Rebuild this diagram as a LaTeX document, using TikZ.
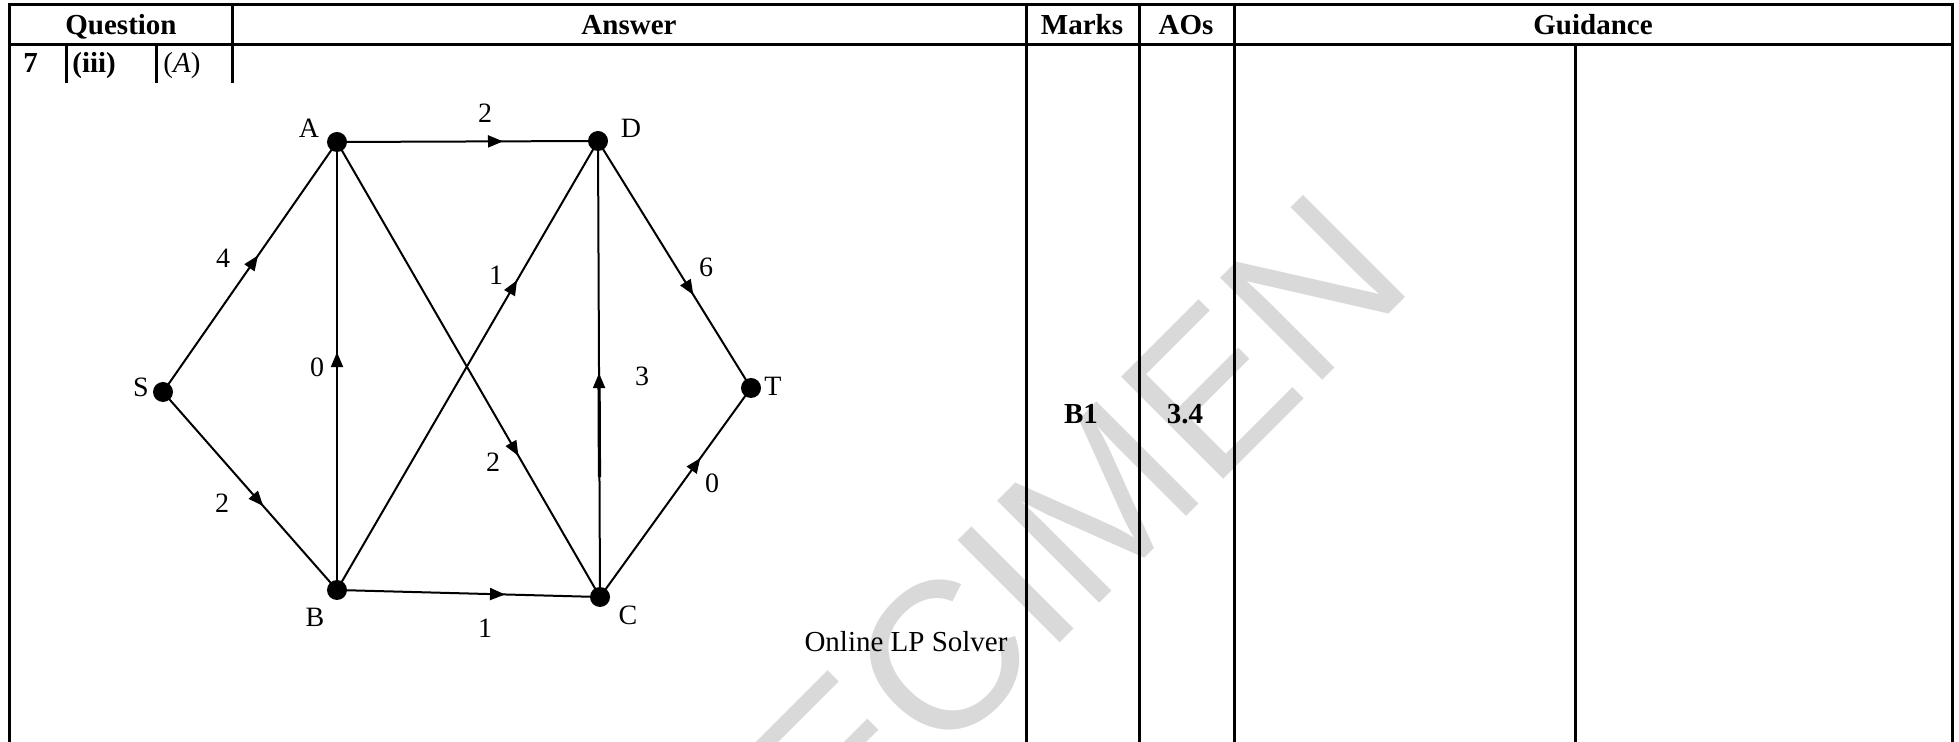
\documentclass[tikz,border=0pt]{standalone}
\usepackage{fontspec}
\setmainfont{Liberation Serif}
\newfontfamily\wmfont{Liberation Sans}
\usetikzlibrary{arrows.meta,decorations.markings,calc}
\begin{document}
\begin{tikzpicture}[x=0.5pt,y=-0.5pt,
  tline/.style={line width=1.5pt},
  gline/.style={line width=1pt},
  dot/.style={circle, fill=black, inner sep=0pt, minimum size=10pt},
  lab/.style={inner sep=0pt, font=\fontsize{14}{16}\selectfont},
  hdr/.style={inner sep=0pt, anchor=base, font=\fontsize{14.5}{16}\selectfont\bfseries},
  txt/.style={inner sep=0pt, anchor=base, font=\fontsize{14.5}{16}\selectfont},
  flow/.style={gline, decoration={markings, mark=at position #1 with {\arrow{Triangle[length=7.5pt,width=6pt]}}}, postaction={decorate}}
]
\useasboundingbox (0,0) rectangle (1959,742);
% watermark
\begin{scope}
\clip (0,0) rectangle (1959,742);
\node[rotate=45, anchor=base west, inner sep=0pt, text=black!15,
  font=\wmfont\fontsize{105}{105}\selectfont] (wm) at (642,1061) {SPECIMEN};
\end{scope}
% table
\draw[tline] (9,742) -- (9,5) -- (1952,5) -- (1952,742);
\draw[tline] (9,45) -- (1952,45);
\draw[tline] (66,45) -- (66,83);
\draw[tline] (156,45) -- (156,83);
\draw[tline] (232,5) -- (232,83);
\draw[tline] (1026,5) -- (1026,742);
\draw[tline] (1139,5) -- (1139,742);
\draw[tline] (1234,5) -- (1234,742);
\draw[tline] (1575,45) -- (1575,742);
% headers
\node[hdr] (hq) at (121,35) {Question};
\node[hdr] (ha) at (629,35) {Answer};
\node[hdr] (hm) at (1082,35) {Marks};
\node[hdr] (hao) at (1186,35) {AOs};
\node[hdr] (hg) at (1593,35) {Guidance};
\node[hdr, anchor=base west] (q7) at (23,73) {7};
\node[hdr, anchor=base west] (q3) at (72,73) {(iii)};
\node[txt, anchor=base west] (qa) at (163,73) {(\textit{A})};
\node[hdr] (mk) at (1081,424) {B1};
\node[hdr] (ao) at (1185,424) {3.4};
\node[txt] (lp) at (906,651) {Online LP Solver};
% vertices
\node[dot] (A) at (337,142) {};
\node[dot] (D) at (598,141) {};
\node[dot] (S) at (163,392) {};
\node[dot] (T) at (751,388) {};
\node[dot] (B) at (337,590) {};
\node[dot] (C) at (600,597) {};
% edges
\draw[flow=0.546] (S.center) -- (A.center);
\draw[flow=0.636] (A.center) -- (D.center);
\draw[flow=0.531] (B.center) -- (A.center);
\draw[flow=0.69] (B.center) -- (D.center);
\draw[flow=0.491] (C.center) -- (D.center);
\draw[line width=1.6pt] ($(C.center)!0.263!(D.center)$) -- ($(C.center)!0.48!(D.center)$);
\draw[flow=0.623] (D.center) -- (T.center);
\draw[flow=0.665] (C.center) -- (T.center);
\draw[flow=0.69] (A.center) -- (C.center);
\draw[flow=0.576] (S.center) -- (B.center);
\draw[flow=0.639] (B.center) -- (C.center);
% vertex labels
\node[lab] (lA) at (309,128) {A};
\node[lab] (lD) at (631,128) {D};
\node[lab] (lS) at (141,387) {S};
\node[lab] (lT) at (773,386) {T};
\node[lab] (lB) at (315,617) {B};
\node[lab] (lC) at (628,615) {C};
% edge labels
\node[lab] (wSA) at (223,258) {4};
\node[lab] (wAD) at (485,113) {2};
\node[lab] (wBA) at (317,367) {0};
\node[lab] (wBD) at (496,275) {1};
\node[lab] (wCD) at (642,376) {3};
\node[lab] (wDT) at (706,267) {6};
\node[lab] (wCT) at (712,483) {0};
\node[lab] (wAC) at (493,462) {2};
\node[lab] (wSB) at (222,503) {2};
\node[lab] (wBC) at (485,628) {1};
\end{tikzpicture}
\end{document}
